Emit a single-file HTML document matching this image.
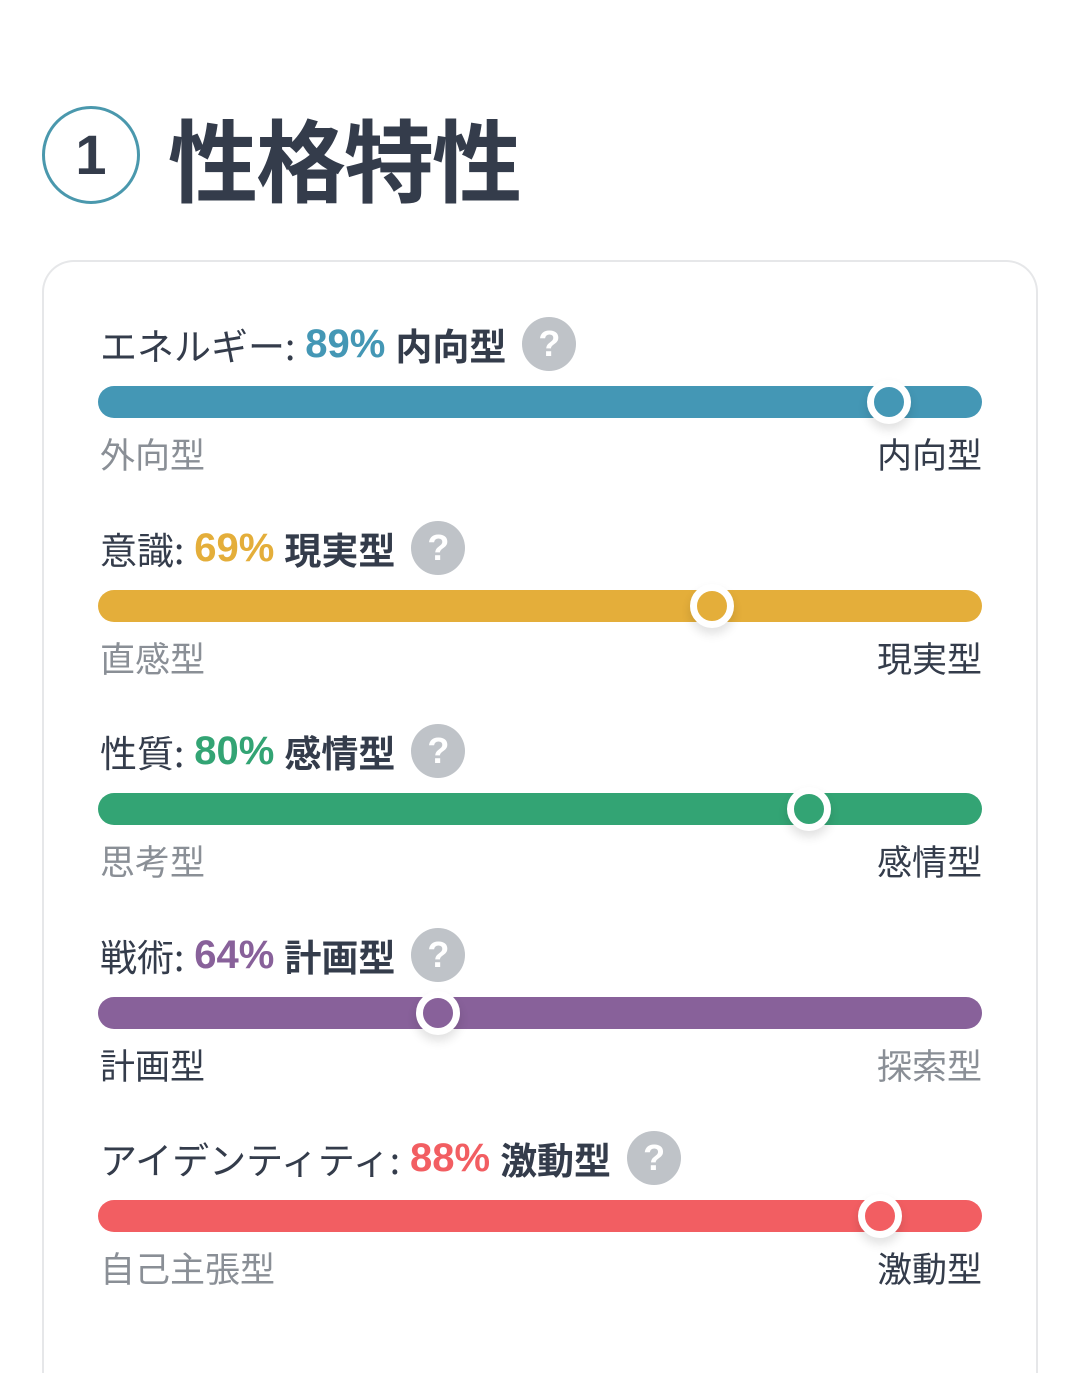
<!DOCTYPE html>
<html><head><meta charset="utf-8">
<style>
html,body{margin:0;padding:0;background:#fff;width:1080px;height:1373px;overflow:hidden;}
body{position:relative;font-family:"Liberation Sans","Noto Sans CJK JP",sans-serif;color:#343c4b;}
.circ{position:absolute;left:42px;top:106px;width:92px;height:92px;border:3px solid #4a98ad;border-radius:50%;box-sizing:content-box;text-align:center;line-height:92px;font-size:56px;font-weight:bold;color:#343c4b;}
.title{position:absolute;left:168px;top:96px;font-size:90px;font-weight:bold;line-height:120px;letter-spacing:-2px;font-family:"Noto Sans CJK JP",sans-serif;color:#343c4b;}
.card{position:absolute;left:42px;top:260px;width:996px;height:1113px;border:2px solid #e6e7e9;border-bottom:none;border-radius:32px 32px 0 0;box-sizing:border-box;}
.row{position:absolute;left:0;width:1080px;}
.lab{position:absolute;left:100px;top:-2px;height:56px;line-height:56px;font-size:37px;white-space:nowrap;display:flex;align-items:center;font-family:"Noto Sans CJK JP",sans-serif;}
.pct{font-weight:bold;margin:0 10px 0 10px;font-family:"Liberation Sans","Noto Sans CJK JP",sans-serif;font-size:40px;}
.typ{font-weight:bold;}
.help{display:inline-block;width:54px;height:54px;border-radius:50%;background:#bfc3c8;color:#fff;font-weight:bold;font-size:36px;line-height:54px;text-align:center;margin-left:16px;font-family:"Liberation Sans",sans-serif;}
.bar{position:absolute;left:98px;width:884px;height:32px;border-radius:16px;top:68px;}
.knob{position:absolute;top:62px;width:30px;height:30px;border:7px solid #fff;border-radius:50%;margin-left:-22px;box-shadow:0 6px 10px rgba(0,0,0,0.12);}
.side{position:absolute;top:110px;font-size:35px;line-height:52px;font-family:"Noto Sans CJK JP",sans-serif;}
.l{left:100px}.r{right:98px}
</style></head><body>
<div class="circ">1</div>
<div class="title">性格特性</div>
<div class="card"></div>
<div id="rows"></div>
<script>
const names=["エネルギー","意識","性質","戦術","アイデンティティ"];
const percents=[89,69,80,64,88];
const types=["内向型","現実型","感情型","計画型","激動型"];
const leftLabels=["外向型","直感型","思考型","計画型","自己主張型"];
const rightLabels=["内向型","現実型","感情型","探索型","激動型"];
const dominantSide=["right","right","right","left","right"];
const colors=["#4497b5","#e4ae3a","#33a474","#88619a","#f25e62"];
const X0=98,W=884,TOP=318,STEP=203.5;
function xScale(p){return X0+4+p/100*W;}
const root=document.getElementById('rows');
names.forEach((n,i)=>{
 const r=document.createElement('div');r.className='row';r.style.top=(TOP+i*STEP)+'px';
 
 
 const right=dominantSide[i]==='right';
 const pos=right?percents[i]:100-percents[i]+2;
 r.innerHTML=`<div class="lab"><span>${n}:</span><span class="pct" style="color:${colors[i]}">${percents[i]}%</span><span class="typ">${types[i]}</span><span class="help">?</span></div>
<div class="bar" style="background:${colors[i]}"></div>
<div class="knob" style="left:${xScale(pos)}px;background:${colors[i]}"></div>
<div class="side l" style="color:${right?'#8a8f96':'#343c4b'}">${leftLabels[i]}</div>
<div class="side r" style="color:${right?'#343c4b':'#8a8f96'}">${rightLabels[i]}</div>`;
 root.appendChild(r);
});
</script>
</body></html>
